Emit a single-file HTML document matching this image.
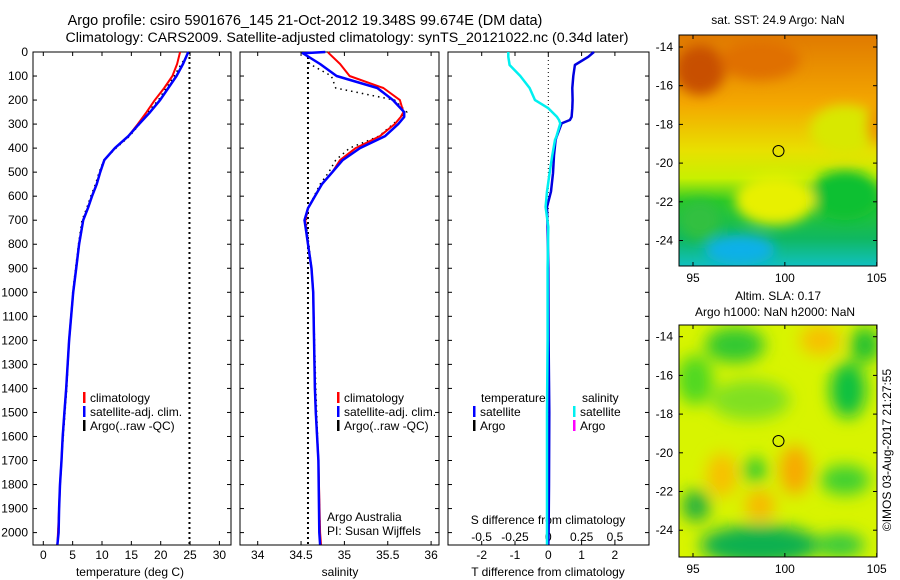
<!DOCTYPE html>
<html><head><meta charset="utf-8"><style>
body{margin:0;background:#fff;}
svg{display:block;font-family:"Liberation Sans",sans-serif;}
text{fill:#000;}
</style></head><body>
<svg id="fig" width="900" height="580" viewBox="0 0 900 580">
<defs>
<filter id="blur1" x="-20%" y="-20%" width="140%" height="140%"><feGaussianBlur stdDeviation="6"/></filter>
<filter id="blur2" x="-20%" y="-20%" width="140%" height="140%"><feGaussianBlur stdDeviation="8"/></filter>
<linearGradient id="sstg" x1="0" y1="0" x2="0" y2="1">
<stop offset="0" stop-color="#e07a00"/><stop offset="0.3" stop-color="#f4a800"/><stop offset="0.5" stop-color="#e8e000"/><stop offset="0.62" stop-color="#c8f000"/><stop offset="0.72" stop-color="#28c828"/><stop offset="0.88" stop-color="#10b860"/><stop offset="1" stop-color="#10c0c0"/></linearGradient>
<clipPath id="c1"><rect x="679" y="35" width="198" height="231"/></clipPath>
<clipPath id="c2"><rect x="679" y="325" width="198" height="232"/></clipPath>
</defs>
<text x="305" y="25" font-size="14.5" text-anchor="middle">Argo profile: csiro 5901676_145 21-Oct-2012 19.348S 99.674E (DM data)</text>
<text x="347" y="42" font-size="14.2" text-anchor="middle">Climatology: CARS2009. Satellite-adjusted climatology: synTS_20121022.nc (0.34d later)</text>

<g>
<text x="778" y="24" font-size="12" text-anchor="middle">sat. SST: 24.9 Argo: NaN</text>
<g clip-path="url(#c1)">
<rect x="679" y="35" width="198" height="231" fill="url(#sstg)"/>
<g filter="url(#blur1)">
<ellipse cx="700" cy="70" rx="25" ry="25" fill="#c85000"/>
<ellipse cx="760" cy="60" rx="40" ry="20" fill="#e07000"/>
<ellipse cx="845" cy="130" rx="35" ry="25" fill="#d8e800"/>
<ellipse cx="875" cy="125" rx="8" ry="20" fill="#f09000"/>
<ellipse cx="845" cy="195" rx="35" ry="25" fill="#10c030"/>
<ellipse cx="775" cy="200" rx="40" ry="25" fill="#e8f000"/>
<ellipse cx="740" cy="250" rx="35" ry="15" fill="#10b0e8"/>
<ellipse cx="700" cy="220" rx="20" ry="20" fill="#30c040"/>
</g>
</g>
<rect x="679" y="35" width="198" height="231" fill="none" stroke="#000"/>
<circle cx="778.5" cy="151" r="5.5" fill="none" stroke="#000"/>
</g>

<g>
<text x="778" y="300" font-size="12" text-anchor="middle">Altim. SLA: 0.17</text>
<text x="775" y="316" font-size="12" text-anchor="middle">Argo h1000: NaN h2000: NaN</text>
<g clip-path="url(#c2)">
<rect x="679" y="325" width="198" height="232" fill="#d8f400"/>
<g filter="url(#blur2)">
<ellipse cx="735" cy="345" rx="30" ry="18" fill="#30c830"/>
<ellipse cx="695" cy="380" rx="18" ry="25" fill="#50d820"/>
<ellipse cx="848" cy="390" rx="18" ry="28" fill="#10c040"/>
<ellipse cx="865" cy="345" rx="15" ry="18" fill="#20c030"/>
<ellipse cx="820" cy="340" rx="20" ry="15" fill="#f8c000"/>
<ellipse cx="750" cy="400" rx="40" ry="20" fill="#80e020"/>
<ellipse cx="722" cy="475" rx="15" ry="22" fill="#f8c000"/>
<ellipse cx="795" cy="470" rx="15" ry="25" fill="#f8a800"/>
<ellipse cx="760" cy="505" rx="15" ry="15" fill="#f8b800"/>
<ellipse cx="755" cy="470" rx="12" ry="12" fill="#30c830"/>
<ellipse cx="696" cy="506" rx="14" ry="16" fill="#20b040"/>
<ellipse cx="760" cy="545" rx="60" ry="20" fill="#10b050"/>
<ellipse cx="840" cy="545" rx="25" ry="12" fill="#30c840"/>
<ellipse cx="845" cy="480" rx="25" ry="15" fill="#40d030"/>
</g>
</g>
<rect x="679" y="325" width="198" height="232" fill="none" stroke="#000"/>
<circle cx="778.5" cy="441" r="5.5" fill="none" stroke="#000"/>
</g>
<text transform="translate(891,450) rotate(-90)" font-size="12" text-anchor="middle">©IMOS 03-Aug-2017 21:27:55</text>

<text x="327" y="521" font-size="12">Argo Australia</text>
<text x="327" y="535" font-size="12">PI: Susan Wijffels</text>
<text x="548" y="524" font-size="12" text-anchor="middle">S difference from climatology</text>
<text x="130" y="576" font-size="12" text-anchor="middle">temperature (deg C)</text>
<text x="340" y="576" font-size="12" text-anchor="middle">salinity</text>
<text x="548" y="576" font-size="12" text-anchor="middle">T difference from climatology</text>
<g id="dyn"></g>
</svg>
<script>
// ---- data ----
const depthTicks = [0,100,200,300,400,500,600,700,800,900,1000,1100,1200,1300,1400,1500,1600,1700,1800,1900,2000];
const tempTicks = [0,5,10,15,20,25,30];
const salTicks = [34,34.5,35,35.5,36];
const salTickLabels = ["34","34.5","35","35.5","36"];
const tdiffTicks = [-2,-1,0,1,2];
const sdiffTicks = [-0.5,-0.25,0,0.25,0.5];
const sdiffTickLabels = ["-0.5","-0.25","0","0.25","0.5"];

const tDepth = [0,50,100,150,200,250,300,350,400,450,500,550,600,650,700,800,900,1000,1200,1400,1500,1600,1700,1800,1900,2000,2050];
const tClim = [23.3,22.8,22,20.6,19,17.6,16.1,14.5,12.2,10.4,9.7,9.1,8.3,7.6,6.8,6.1,5.6,5.1,4.4,3.9,3.6,3.3,3.1,2.85,2.7,2.5,2.4];
const tSat  = [24.7,23.8,22.7,21.3,19.9,18.2,16.3,14.5,12.2,10.4,9.7,9.1,8.3,7.6,6.8,6.1,5.6,5.1,4.4,3.9,3.6,3.3,3.1,2.85,2.7,2.6,2.4];
const tArgo = [24.9,23.5,22.3,20.9,19.6,17.8,16.4,14.7,12.4,10.3,9.5,8.9,8.1,7.4,6.6,6,5.5,5,4.4,4,3.7,3.4,3.1,2.9,2.7,2.5,2.4];
const sstValue = 24.9;

const sDepth = [0,5,50,100,150,200,250,270,300,350,400,450,500,550,600,650,700,750,800,900,1000,1400,1500,1700,2000,2050];
const sClim = [34.81,34.82,34.95,35.06,35.45,35.64,35.68,35.65,35.58,35.41,35.13,34.95,34.86,34.74,34.66,34.58,34.55,34.56,34.58,34.62,34.64,34.66,34.67,34.7,34.72,34.73];
const sSat  = [34.78,34.52,34.72,34.91,35.38,35.56,35.69,35.69,35.62,35.47,35.18,34.98,34.86,34.74,34.66,34.58,34.54,34.56,34.58,34.62,34.64,34.66,34.67,34.7,34.71,34.72];
const sArgo = [34.55,34.56,34.6,34.85,34.9,35.58,35.72,35.66,35.56,35.4,35.06,34.9,34.82,34.72,34.65,34.58,34.56,34.57,34.59,34.62,34.64,34.67,34.68,34.7,34.72,34.72];
const sRef = 34.58;

const dDepth = [0,20,54,100,150,200,234,270,283,297,353,366,430,504,580,645,728,900,1200,1500,1800,2000,2050];
const tDiff = [1.37,1.2,0.8,0.75,0.72,0.73,0.72,0.7,0.65,0.4,0.25,0.22,0.17,0.14,0.08,-0.04,-0.02,0,0.01,0.03,0.02,0.01,0];
const sDiff = [-0.3,-0.3,-0.29,-0.21,-0.14,-0.1,0,0.065,0.08,0.09,0.06,0.05,0.03,0.01,-0.01,-0.02,0,-0.005,-0.005,-0.01,-0.01,-0.01,-0.01];

// ---- axes ----
const NS = "http://www.w3.org/2000/svg";
const root = document.getElementById('dyn');
const Y0 = 52, Y1 = 545;
const yD = d => 52 + 0.2403 * d;
const xT = v => 43.3 + 5.87 * v;
const xS = v => 257.7 + 86.7 * (v - 34);
const xTd = v => 548.3 + 33.3 * v;
const xSd = v => 548.3 + 133.3 * v;
const panels = [{x0:33,x1:231},{x0:240,x1:439},{x0:448,x1:649}];

function mk(tag, attrs, parent) {
  const e = document.createElementNS(NS, tag);
  for (const k in attrs) e.setAttribute(k, attrs[k]);
  (parent || root).appendChild(e);
  return e;
}
function txt(x, y, s, anchor, parent) {
  const t = mk('text', {x: x, y: y, 'font-size': 12, 'text-anchor': anchor || 'middle'}, parent);
  t.textContent = s;
  return t;
}
function pathOf(xs, ys, fx, fy) {
  return xs.map((v, i) => (i ? 'L' : 'M') + fx(v).toFixed(1) + ',' + fy(ys[i]).toFixed(1)).join(' ');
}

panels.forEach((p, i) => {
  const g = mk('g', {});
  
  
  const r = mk('rect', {x: p.x0, y: Y0, width: p.x1 - p.x0, height: Y1 - Y0, fill: 'none', stroke: '#000'}, g);
  
  
  depthTicks.forEach(d => {
    mk('line', {x1: p.x0, x2: p.x0 + 4, y1: yD(d), y2: yD(d), stroke: '#000'}, g);
    mk('line', {x1: p.x1 - 4, x2: p.x1, y1: yD(d), y2: yD(d), stroke: '#000'}, g);
  });
});

const yl = mk('g', {});


depthTicks.forEach(d => { txt(28, yD(d) + 4, String(d), 'end', yl); });

function xTicks(ticks, labels, fx, ylab, parent, top) {
  ticks.forEach((v, i) => {
    const x = fx(v);
    mk('line', {x1: x, x2: x, y1: Y1 - 4, y2: Y1, stroke: '#000'}, parent);
    if (top) mk('line', {x1: x, x2: x, y1: Y0, y2: Y0 + 4, stroke: '#000'}, parent);
    txt(x, ylab, labels[i], 'middle', parent);
  });
}
const ax1 = mk('g', {});


xTicks(tempTicks, tempTicks.map(String), xT, 559, ax1, true);
const ax2 = mk('g', {});


xTicks(salTicks, salTickLabels, xS, 559, ax2, true);
const ax3 = mk('g', {});


xTicks(tdiffTicks, tdiffTicks.map(String), xTd, 559, ax3, true);
const ax4 = mk('g', {});


sdiffTicks.forEach((v, i) => { txt(xSd(v), 541, sdiffTickLabels[i], 'middle', ax4); });

let e;
e = mk('line', {x1: xT(sstValue), x2: xT(sstValue), y1: Y0, y2: Y1, stroke: '#000', 'stroke-width': 2, 'stroke-dasharray': '2,3'});


e = mk('line', {x1: xS(sRef), x2: xS(sRef), y1: Y0, y2: Y1, stroke: '#000', 'stroke-width': 2, 'stroke-dasharray': '2,3'});


e = mk('line', {x1: xTd(0), x2: xTd(0), y1: Y0, y2: Y1, stroke: '#000', 'stroke-width': 1, 'stroke-dasharray': '1,3'});



function series(vals, depths, fx, color, w, dash, name) {
  const a = {d: pathOf(vals, depths, fx, yD), fill: 'none', stroke: color, 'stroke-width': w, 'stroke-linejoin': 'round'};
  if (dash) a['stroke-dasharray'] = dash;
  const s = mk('path', a);
  
  
}
series(tArgo, tDepth, xT, '#000', 1.5, '1.5,4', 'temp-argo-line');
series(tClim, tDepth, xT, '#f00', 2, null, 'temp-climatology-line');
series(tSat, tDepth, xT, '#00f', 2.5, null, 'temp-satellite-line');
series(sArgo, sDepth, xS, '#000', 1.5, '1.5,4', 'sal-argo-line');
series(sClim, sDepth, xS, '#f00', 2, null, 'sal-climatology-line');
series(sSat, sDepth, xS, '#00f', 2.5, null, 'sal-satellite-line');
series(tDiff, dDepth, xTd, '#0000e0', 2.5, null, 't-diff-satellite-line');
series(sDiff, dDepth, xSd, '#00f0f0', 2.5, null, 's-diff-satellite-line');

function legend(x, y, color, label, name) {
  const g = mk('g', {});
  
  
  mk('rect', {x: x, y: y - 10, width: 2.5, height: 11, fill: color}, g);
  txt(x + 7, y, label, 'start', g);
}
legend(83, 402, '#f00', 'climatology', 'legend-temp-climatology');
legend(83, 416, '#00f', 'satellite-adj. clim.', 'legend-temp-satellite');
legend(83, 430, '#000', 'Argo(..raw -QC)', 'legend-temp-argo');
legend(337, 402, '#f00', 'climatology', 'legend-sal-climatology');
legend(337, 416, '#00f', 'satellite-adj. clim.', 'legend-sal-satellite');
legend(337, 430, '#000', 'Argo(..raw -QC)', 'legend-sal-argo');
e = txt(481, 402, 'temperature', 'start');


e = txt(582, 402, 'salinity', 'start');


legend(473, 416, '#00f', 'satellite', 'legend-tdiff-satellite');
legend(473, 430, '#000', 'Argo', 'legend-tdiff-argo');
legend(573, 416, '#00f0f0', 'satellite', 'legend-sdiff-satellite');
legend(573, 430, '#f0f', 'Argo', 'legend-sdiff-argo');

function mapAxes(y0, y1, latTop, name) {
  const g = mk('g', {});
  
  
  [95, 100, 105].forEach(l => {
    const x = 693 + (l - 95) * 18.37;
    mk('line', {x1: x, x2: x, y1: y1 - 4, y2: y1, stroke: '#000'}, g);
    mk('line', {x1: x, x2: x, y1: y0, y2: y0 + 4, stroke: '#000'}, g);
    txt(x, y1 + 16, String(l), 'middle', g);
  });
  [-14, -16, -18, -20, -22, -24].forEach(l => {
    const y = latTop + (-14 - l) * 19.35;
    mk('line', {x1: 679, x2: 683, y1: y, y2: y, stroke: '#000'}, g);
    mk('line', {x1: 873, x2: 877, y1: y, y2: y, stroke: '#000'}, g);
    txt(673, y + 4, String(l), 'end', g);
  });
}
mapAxes(35, 266, 47, 'sst-map-axes');
mapAxes(325, 557, 336.7, 'sla-map-axes');
</script>
</body></html>
